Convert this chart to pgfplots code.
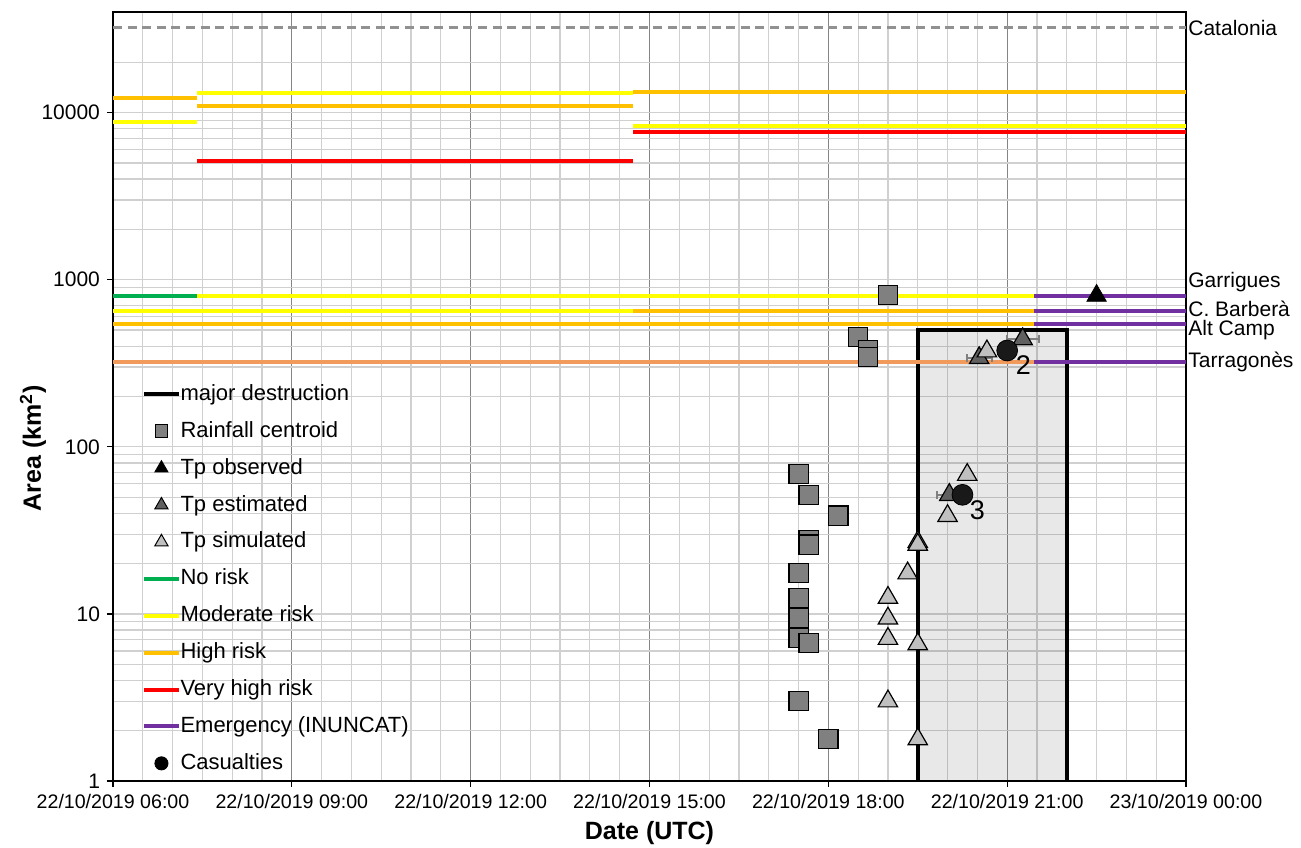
\documentclass[border=0pt]{standalone}
\usepackage{fontspec}
\setmainfont{Liberation Sans}
\usepackage{pgfplots}
\pgfplotsset{compat=1.18}
\definecolor{cgreen}{HTML}{00B050}
\definecolor{cyellow}{HTML}{FFFF00}
\definecolor{corange}{HTML}{FFC000}
\definecolor{cred}{HTML}{FF0000}
\definecolor{cpurple}{HTML}{7030A0}
\definecolor{csalmon}{HTML}{F19A5B}
\definecolor{ccat}{HTML}{919191}
\definecolor{csq}{HTML}{808080}
\definecolor{cest}{HTML}{606060}
\definecolor{csim}{HTML}{C0C0C0}
\definecolor{gridminor}{HTML}{D0D0D0}
\definecolor{gridmajor}{HTML}{858585}
\begin{document}
\begin{tikzpicture}
\begin{axis}[
  scale only axis, width=536.5pt, height=384.5pt,
  xmin=0, xmax=18, ymode=log, ymin=1, ymax=40000,
  xtick={0,3,6,9,12,15,18},
  xticklabels={22/10/2019 06:00,22/10/2019 09:00,22/10/2019 12:00,22/10/2019 15:00,22/10/2019 18:00,22/10/2019 21:00,23/10/2019 00:00},
  minor xtick={0.5,1,1.5,2,2.5,3.5,4,4.5,5,5.5,6.5,7,7.5,8,8.5,9.5,10,10.5,11,11.5,12.5,13,13.5,14,14.5,15.5,16,16.5,17,17.5},
  ytick={1,10,100,1000,10000}, yticklabels={1,10,100,1000,10000},
  minor ytick={2,3,4,5,6,7,8,9,20,30,40,50,60,70,80,90,200,300,400,500,600,700,800,900,2000,3000,4000,5000,6000,7000,8000,9000,20000},
  grid=both,
  minor grid style={gridminor, line width=0.6pt},
  major y grid style={gridminor, line width=0.6pt},
  major x grid style={gridmajor, line width=0.5pt},
  tick align=outside, tick pos=left,
  major tick length=3pt, minor tick length=0pt,
  tick style={black, line width=0.6pt},
  axis line style={black, line width=0.8pt},
  /pgf/number format/assume math mode=true,
  yticklabel style={font=\fontsize{10.5}{12}\selectfont},
  xticklabel style={font=\fontsize{9.8}{12}\selectfont},
  clip=false,
  xlabel={\bfseries Date (UTC)},
  xlabel style={font=\fontsize{12.5}{14}\selectfont, at={(rel axis cs:0.5,0)}, anchor=center, yshift=-26pt},
  ylabel={\bfseries Area (km\textsuperscript{2})},
  ylabel style={font=\fontsize{12.5}{14}\selectfont, at={(rel axis cs:0,0.433)}, anchor=center, yshift=40pt},
  legend style={at={(rel axis cs:0.027,0.5150)}, anchor=north west, draw=none, fill=none, inner sep=0pt,
    font=\fontsize{11}{13}\selectfont, row sep=9.45pt,
    nodes={inner sep=0pt, text height=7.5pt, text depth=1.5pt}},
  legend cell align=left,
  /tikz/every even column/.append style={column sep=1pt},
]
% legend entries
\addlegendimage{black, line width=2pt}
\addlegendentry{major destruction}
\addlegendimage{only marks, mark=square*, mark size=3.2pt, mark options={fill=csq, draw=black, line width=0.5pt}}
\addlegendentry{Rainfall centroid}
\addlegendimage{only marks, mark=triangle*, mark size=3.8pt, mark options={fill=black, draw=black}}
\addlegendentry{Tp observed}
\addlegendimage{only marks, mark=triangle*, mark size=3.8pt, mark options={fill=cest, draw=black, line width=0.5pt}}
\addlegendentry{Tp estimated}
\addlegendimage{only marks, mark=triangle*, mark size=3.8pt, mark options={fill=csim, draw=black, line width=0.5pt}}
\addlegendentry{Tp simulated}
\addlegendimage{cgreen, line width=2pt}
\addlegendentry{No risk}
\addlegendimage{cyellow, line width=2pt}
\addlegendentry{Moderate risk}
\addlegendimage{corange, line width=2pt}
\addlegendentry{High risk}
\addlegendimage{cred, line width=2pt}
\addlegendentry{Very high risk}
\addlegendimage{cpurple, line width=2pt}
\addlegendentry{Emergency (INUNCAT)}
\addlegendimage{only marks, mark=*, mark size=3.3pt, mark options={fill=black, draw=black}}
\addlegendentry{Casualties}

% major destruction box
\addplot[forget plot, fill=black, fill opacity=0.09, draw=none] coordinates {(13.5,1) (13.5,500) (16,500) (16,1)} \closedcycle;
\addplot[forget plot, black, line width=2pt] coordinates {(13.5,1) (13.5,500) (16,500) (16,1)};

% Catalonia
\addplot[forget plot, ccat, line width=1.5pt, dash pattern=on 4.5pt off 2.8pt] coordinates {(0,32108) (18,32108)};

% regional risk lines (upper)
\addplot[forget plot, corange, line width=2pt] coordinates {(0,12180) (1.41,12180)};
\addplot[forget plot, cyellow, line width=2pt] coordinates {(0,8750) (1.41,8750)};
\addplot[forget plot, cyellow, line width=2pt] coordinates {(1.41,13050) (8.73,13050)};
\addplot[forget plot, corange, line width=2pt] coordinates {(1.41,10970) (8.73,10970)};
\addplot[forget plot, cred, line width=2pt] coordinates {(1.41,5110) (8.73,5110)};
\addplot[forget plot, corange, line width=2pt] coordinates {(8.73,13360) (18,13360)};
\addplot[forget plot, cyellow, line width=2pt] coordinates {(8.73,8280) (18,8280)};
\addplot[forget plot, cred, line width=2pt] coordinates {(8.73,7620) (18,7620)};

% county lines (lower)
\addplot[forget plot, cgreen, line width=2pt] coordinates {(0,800) (1.41,800)};
\addplot[forget plot, cyellow, line width=2pt] coordinates {(1.41,800) (15.45,800)};
\addplot[forget plot, cpurple, line width=2pt] coordinates {(15.45,800) (18,800)};
\addplot[forget plot, cyellow, line width=2pt] coordinates {(0,650) (8.73,650)};
\addplot[forget plot, corange, line width=2pt] coordinates {(8.73,650) (15.45,650)};
\addplot[forget plot, cpurple, line width=2pt] coordinates {(15.45,650) (18,650)};
\addplot[forget plot, corange, line width=2pt] coordinates {(0,543) (15.45,543)};
\addplot[forget plot, cpurple, line width=2pt] coordinates {(15.45,543) (18,543)};
\addplot[forget plot, csalmon, line width=2pt] coordinates {(0,322) (15.45,322)};
\addplot[forget plot, cpurple, line width=2pt] coordinates {(15.45,322) (18,322)};

% rainfall centroid
\addplot[forget plot, only marks, mark=square*, mark size=4.8pt, mark options={fill=csq, draw=black, line width=0.6pt}] coordinates {
(11.5,68.5) (11.67,51.6) (12.17,38.8) (11.67,27.5) (11.67,26) (11.5,17.5) (11.5,12.5) (11.5,9.5) (11.5,7.15) (11.67,6.7) (11.5,3.0) (12.0,1.78) (12.5,454) (12.67,381) (12.67,346) (13.0,813)};

% Tp estimated
\addplot[forget plot, only marks, mark=triangle*, mark size=5.6pt, mark options={fill=cest, draw=black, line width=0.6pt},
  error bars/.cd, x dir=both, x explicit, error mark=|, error bar style={csq, line width=1pt}, error mark options={csq, line width=1pt, mark size=2pt}] coordinates {
(14.03,51.6) +- (0.21,0) (14.53,340) +- (0.21,0) (15.26,441) +- (0.27,0)};

% Tp simulated
\addplot[forget plot, only marks, mark=triangle*, mark size=5.6pt, mark options={fill=csim, draw=black, line width=0.6pt}] coordinates {
(13.0,12.5) (13.0,9.4) (13.0,7.1) (13.5,6.6) (13.0,3.0) (13.5,1.78) (13.33,17.5) (13.5,27) (13.5,26) (14.0,38.6) (14.33,68) (14.66,373)};

% Tp observed
\addplot[forget plot, only marks, mark=triangle*, mark size=5.6pt, mark options={fill=black, draw=black}] coordinates {(16.5,802)};

% Casualties
\addplot[forget plot, only marks, mark=*, mark size=5.2pt, mark options={fill=black!90, draw=black}] coordinates {(14.25,51.6) (15.0,377)};

\node[font=\fontsize{13.5}{15}\selectfont] at (axis cs:15.27,310) {2};
\node[font=\fontsize{13.5}{15}\selectfont] at (axis cs:14.5,41.5) {3};

\node[anchor=west, inner sep=1pt, font=\fontsize{10.5}{12}\selectfont] at (axis cs:18,32108) {Catalonia};
\node[anchor=west, inner sep=1pt, font=\fontsize{10.5}{12}\selectfont] at (axis cs:18,963) {Garrigues};
\node[anchor=west, inner sep=1pt, font=\fontsize{10.5}{12}\selectfont] at (axis cs:18,668) {C. Barberà};
\node[anchor=west, inner sep=1pt, font=\fontsize{10.5}{12}\selectfont] at (axis cs:18,502) {Alt Camp};
\node[anchor=west, inner sep=1pt, font=\fontsize{10.5}{12}\selectfont] at (axis cs:18,324) {Tarragonès};
\end{axis}
\pgfresetboundingbox
\path[use as bounding box] ([shift={(-56.5pt,-33pt)}]current axis.south west) rectangle ([shift={(57.5pt,6pt)}]current axis.north east);
\end{tikzpicture}
\end{document}
